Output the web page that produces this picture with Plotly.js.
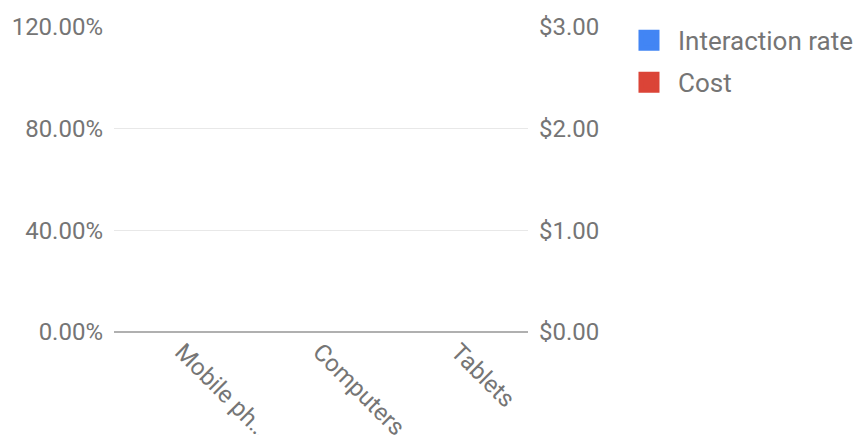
<!DOCTYPE html>
<html>
<head>
<meta charset="utf-8">
<script src="https://cdn.plot.ly/plotly-3.0.1.min.js"></script>
<style>html,body{margin:0;padding:0;background:#fff;}#chart{width:856px;height:435px;}</style>
</head>
<body>
<div id="chart"></div>
<script>
const categories = ["Mobile phones", "Computers", "Tablets"];
const tickLabels = ["Mobile ph…", "Computers", "Tablets"];
const interactionRate = [0, 0, 0];
const cost = [0, 0, 0];
const seriesNames = ["Interaction rate", "Cost"];
const seriesColors = ["#4285F4", "#DB4437"];

const traces = [
  {type: "bar", x: categories, y: interactionRate, name: seriesNames[0], marker: {color: seriesColors[0]}, yaxis: "y", legendgroup: "a", showlegend: false},
  {type: "bar", x: categories, y: cost, name: seriesNames[1], marker: {color: seriesColors[1]}, yaxis: "y2", legendgroup: "b", showlegend: false},
  {type: "scatter", mode: "markers", x: [categories[0]], y: [null], name: seriesNames[0], legendgroup: "a",
   marker: {symbol: "square", size: 16, color: seriesColors[0], line: {color: seriesColors[0], width: 8}}},
  {type: "scatter", mode: "markers", x: [categories[0]], y: [null], name: seriesNames[1], legendgroup: "b",
   marker: {symbol: "square", size: 16, color: seriesColors[1], line: {color: seriesColors[1], width: 8}}}
];

const tf = {family: "Roboto, sans-serif", color: "#757575", size: 24};
const layout = {
  width: 856, height: 435,
  margin: {l: 114, r: 328, t: 27, b: 103, pad: 0, autoexpand: false},
  paper_bgcolor: "#fff", plot_bgcolor: "#fff",
  font: tf,
  showlegend: true,
  barmode: "group",
  xaxis: {
    type: "category", tickvals: categories, ticktext: tickLabels, tickangle: 45,
    showgrid: false, showline: false, zeroline: false, ticks: "", ticklen: 0,
    ticklabelshift: -1, automargin: false,
    tickfont: tf
  },
  yaxis: {
    range: [0, 1.2], dtick: 0.4, tick0: 0, tickformat: ".2%",
    showgrid: true, gridcolor: "#e8e8e8", gridwidth: 1,
    zeroline: true, zerolinecolor: "#b0b0b0", zerolinewidth: 2,
    showline: false, ticks: "", ticklen: 0, ticklabelstandoff: 10, automargin: false,
    tickfont: tf
  },
  yaxis2: {
    overlaying: "y", side: "right", range: [0, 3], dtick: 1, tick0: 0, tickformat: "$.2f",
    showgrid: false, zeroline: false, showline: false, ticks: "", ticklen: 0, ticklabelstandoff: 10, automargin: false,
    tickfont: tf
  },
  legend: {
    x: 1.2222, xanchor: "left", y: 1.033, yanchor: "top",
    font: {family: "Roboto, sans-serif", color: "#757575", size: 26},
    itemsizing: "trace", itemwidth: 48, tracegroupgap: 5, bgcolor: "rgba(0,0,0,0)"
  }
};

Plotly.newPlot("chart", traces, layout, {displayModeBar: false, staticPlot: true});
</script>
</body>
</html>
